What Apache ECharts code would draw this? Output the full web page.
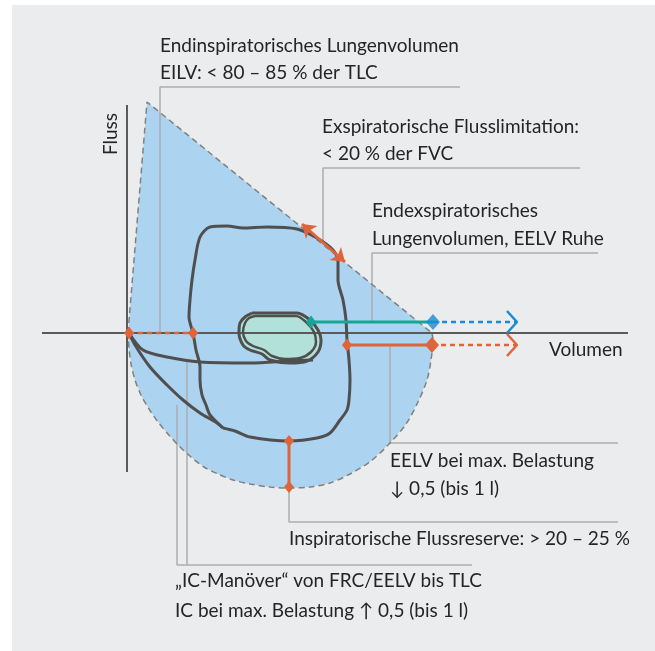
<!DOCTYPE html>
<html><head><meta charset="utf-8">
<script src="https://cdn.jsdelivr.net/npm/echarts@6/dist/echarts.min.js"></script>
<style>html,body{margin:0;padding:0;background:#fff}#c{width:655px;height:651px}</style>
</head><body><div id="c"></div>
<script>
// Diagram coordinates: x = volume (origin at FRC/TLC axis crossing), y = flow
const envelopeEdge = [[0,0],[19,231],[304,0]];
const envelopeCurve = [[304,0],[305,-7],[303,-27],[299,-47],[290,-69],[278,-91],[262,-110],[243,-128],[222,-141],[202,-150],[182,-154],[161,-155],[142,-154],[122,-151],[105,-147],[90,-141],[76,-134],[63,-124],[51,-113],[40,-101],[30,-89],[21,-76],[13,-62],[7,-47],[3,-31],[1,-15],[0,0]];
const exerciseLoop = [[95,-95],[82,-82],[78,-72],[74,-62],[72,-47],[72,-34],[68,-17],[65,0],[61,16],[62,33],[64,53],[67,73],[72,96],[82,106],[99,107],[115,105],[139,106],[169,104],[189,95],[205,83],[210,71],[210,53],[215,33],[218,13],[219,-7],[221,-27],[222,-47],[221,-67],[219,-77],[212,-87],[202,-100],[189,-105],[161,-108],[122,-104],[107,-98],[95,-95]];
const exerciseOuter = [[95,-95],[89,-90],[72,-80],[55,-67],[39,-52],[22,-34],[7,-12],[1,0]];
const inspInner = [[1,0],[15,-17],[39,-24],[72,-29],[122,-30],[162,-28],[185,-27]];
const restLoopA = [[124,20],[169,20],[182,13],[190,3],[193,-7],[190,-19],[179,-28],[162,-30],[142,-27],[134,-21],[122,-17],[115,-12],[111,0],[112,10],[117,16],[124,20]];
const restLoopB = [[127,17],[168,17],[178,11],[186,1],[188,-9],[183,-19],[172,-25],[157,-26],[144,-23],[136,-17],[125,-13],[118,-8],[115,1],[117,10],[121,15],[127,17]];
const flowAxis = [[-1,228],[-1,-139]];
const volumeAxis = [[-86,0],[500,0]];
const leaderEILV = [[32,0],[32,246],[332,246]];
const leaderExsp = [[195,88],[195,165],[452,165]];
const leaderEELVrest = [[244,11],[244,80],[470,80]];
const leaderEELVmax = [[262,-12],[262,-110],[490,-110]];
const leaderReserve = [[161,-154],[161,-189],[490,-189]];
const leaderIC1 = [[49,-72],[49,-232],[344,-232]];
const leaderIC2 = [[59,-29],[59,-232]];
const icPoints = [[1,0],[65,0]];
const flowLimit = [[174,109],[217,71]];
const eelvMaxSolid = [[219,-12],[304,-12]];
const eelvMaxDotted = [[304,-12],[389,-12]];
const eelvMaxChevron = [[379,-1],[389,-12],[379,-23]];
const eelvRestSolid = [[183,11],[305,11]];
const eelvRestDotted = [[305,11],[389,11]];
const eelvRestChevron = [[379,22],[389,11],[379,0]];
const reservePoints = [[161,-108],[161,-154]];

const ORANGE = '#e0643a', BLUE = '#1a8bd6', TEAL = '#17a595', DARK = '#4f4f4f', GREY = '#adadad';
const FONT = '19px Lato';

function poly(points, fill){
  return {type:'custom', silent:true, data:[[0,0]], z:1,
    renderItem:(p, api)=>({type:'polygon', shape:{points:points.map(q=>api.coord(q))}, style:{fill:fill}})};
}
function line(data, color, width, opts){
  return Object.assign({type:'line', data:data, symbol:'none', silent:true, animation:false,
    lineStyle:{color:color, width:width}}, opts||{});
}
const txt = (t, x, y, extra) => Object.assign({type:'text', x:x, y:y, silent:true,
  style:Object.assign({text:t, font:FONT, fill:'#252525', textVerticalAlign:'middle'}, extra||{})});

const chart = echarts.init(document.getElementById('c'), null, {renderer:'canvas'});
chart.setOption({
  animation:false,
  backgroundColor:'#ffffff',
  grid:{left:0, right:0, top:0, bottom:0},
  xAxis:{type:'value', min:-128, max:527, show:false},
  yAxis:{type:'value', min:-318, max:333, show:false},
  graphic:[
    {type:'rect', shape:{x:12, y:5, width:643, height:646}, style:{fill:'#ebeced'}, z:-10, silent:true},
    txt('Endinspiratorisches Lungenvolumen', 160, 46),
    txt('EILV: < 80 – 85 % der TLC', 160, 73),
    txt('Exspiratorische Flusslimitation:', 322, 127),
    txt('< 20 % der FVC', 322, 154),
    txt('Endexspiratorisches', 372, 211),
    txt('Lungenvolumen, EELV Ruhe', 372, 239),
    txt('EELV bei max. Belastung', 390, 461),
    txt('↓ 0,5 (bis 1 l)', 390, 489),
    txt('Inspiratorische Flussreserve: > 20 – 25 %', 289, 539),
    txt('„IC-Manöver“ von FRC/EELV bis TLC', 175, 581),
    txt('IC bei max. Belastung ↑ 0,5 (bis 1 l)', 175, 611),
    txt('Belastung', 188, 213),
    txt('Ruhe', 260, 301),
    txt('Volumen', 549, 350),
    {type:'text', x:111, y:134, rotation:Math.PI/2, silent:true,
      style:{text:'Fluss', font:FONT, fill:'#252525', textAlign:'center', textVerticalAlign:'middle'}}
  ],
  series:[
    poly(envelopeEdge.concat(envelopeCurve), '#acd3f0'),
    line(envelopeEdge, '#808080', 1.5, {z:3, lineStyle:{color:'#808080', width:1.5, type:[6,4]}}),
    line(envelopeCurve, '#808080', 1.5, {z:3, smooth:0.3, lineStyle:{color:'#808080', width:1.5, type:[6,4]}}),
    line(leaderEILV, GREY, 1.5, {z:2}),
    line(leaderExsp, GREY, 1.5, {z:2}),
    line(leaderEELVrest, GREY, 1.5, {z:2}),
    line(leaderEELVmax, GREY, 1.5, {z:2}),
    line(leaderReserve, GREY, 1.5, {z:2}),
    line(leaderIC1, GREY, 1.5, {z:2}),
    line(leaderIC2, GREY, 1.5, {z:2}),
    Object.assign(poly(restLoopA, '#b1e1d8'), {z:3}),
    line(flowAxis, '#5a5a5a', 2, {z:4}),
    line(volumeAxis, '#5a5a5a', 2, {z:4}),
    line(exerciseLoop, DARK, 3, {z:5, smooth:0.3}),
    line(exerciseOuter, DARK, 3, {z:5, smooth:0.3}),
    line(inspInner, DARK, 3, {z:5, smooth:0.3}),
    line(restLoopA, DARK, 3, {z:5, smooth:0.3}),
    line(restLoopB, DARK, 2.5, {z:5, smooth:0.3}),
    line(icPoints, ORANGE, 2.5, {z:6, symbol:'diamond', symbolSize:[10,13], itemStyle:{color:ORANGE},
      lineStyle:{color:ORANGE, width:2.5, type:[5,4]}}),
    {type:'lines', coordinateSystem:'cartesian2d', silent:true, z:6, symbol:['arrow','arrow'], symbolSize:13,
      lineStyle:{color:ORANGE, width:3, opacity:1}, data:[{coords:flowLimit}]},
    line(eelvMaxDotted, ORANGE, 2.5, {z:6, lineStyle:{color:ORANGE, width:2.5, type:[5,4]}}),
    line(eelvMaxChevron, ORANGE, 2.5, {z:6}),
    line(eelvMaxSolid, ORANGE, 3, {z:7, symbol:'diamond', itemStyle:{color:ORANGE},
      data:eelvMaxSolid.map((v,i)=>({value:v, symbolSize:i? [14,16]:[10,13]}))}),
    line(eelvRestDotted, BLUE, 2.5, {z:6, lineStyle:{color:BLUE, width:2.5, type:[5,4]}}),
    line(eelvRestChevron, BLUE, 2.5, {z:6}),
    line(eelvRestSolid, TEAL, 3, {z:7, symbol:'diamond', itemStyle:{color:TEAL},
      data:eelvRestSolid.map((v,i)=>({value:v, symbolSize:i? 0:[10,13]}))}),
    {type:'scatter', silent:true, z:8, symbol:'diamond', symbolSize:[14,16], itemStyle:{color:BLUE}, data:[eelvRestSolid[1]]},
    line(reservePoints, ORANGE, 3, {z:7, symbol:'diamond', symbolSize:[10,12], itemStyle:{color:ORANGE}})
  ]
});
</script></body></html>
